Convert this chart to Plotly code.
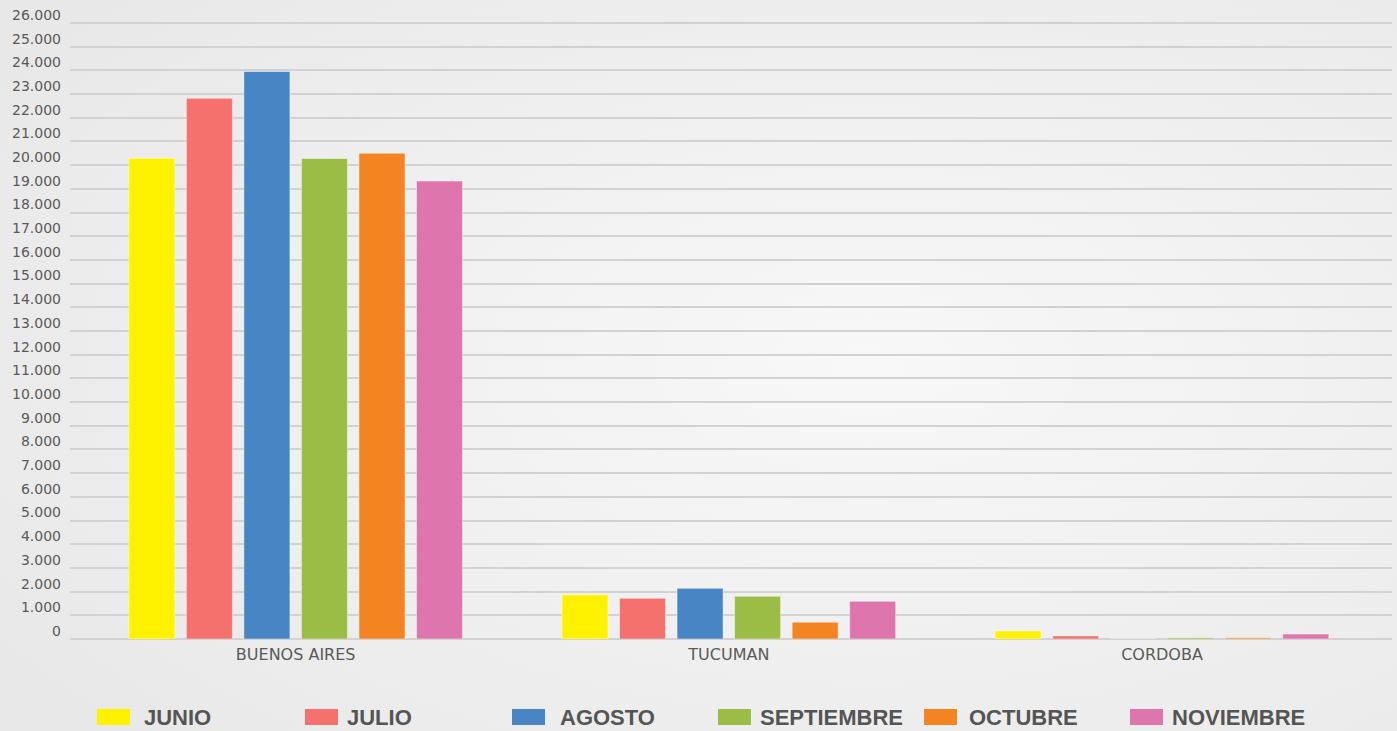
import base64
import plotly.graph_objects as go

# data
provincias = ["BUENOS AIRES", "TUCUMAN", "CORDOBA"]
meses = ["JUNIO", "JULIO", "AGOSTO", "SEPTIEMBRE", "OCTUBRE", "NOVIEMBRE"]
junio = [20290, 1870, 340]
julio = [22820, 1720, 130]
agosto = [23950, 2140, 0]
septiembre = [20280, 1800, 55]
octubre = [20500, 710, 50]
noviembre = [19330, 1590, 210]
valores = [junio, julio, agosto, septiembre, octubre, noviembre]
colores = ["#fff200", "#f4716d", "#4785c5", "#9bbd45", "#f48422", "#de75ad"]
y_ticks = list(range(0, 26001, 1000))

W, H = 1397, 731
ML, MR, MT, MB = 70, 5, 22, 92
PW, PH = W - ML - MR, H - MT - MB

fig = go.Figure()
for mes, vals, col in zip(meses, valores, colores):
    fig.add_trace(go.Bar(
        name=mes, x=provincias, y=vals,
        marker=dict(color=col, line=dict(color="rgba(255,255,255,0.45)", width=1)),
        showlegend=False,
    ))

# soft radial background
svg = f"""<svg xmlns='http://www.w3.org/2000/svg' width='{W}' height='{H}'>
<defs><radialGradient id='g' cx='62%' cy='50%' r='75%'>
<stop offset='0' stop-color='#f8f8f8'/><stop offset='1' stop-color='#e8e8e8'/></radialGradient></defs>
<rect width='100%' height='100%' fill='url(#g)'/></svg>"""
bg = "data:image/svg+xml;base64," + base64.b64encode(svg.encode()).decode()
fig.add_layout_image(dict(
    source=bg, xref="paper", yref="paper",
    x=-ML / PW, y=1 + MT / PH, sizex=W / PW, sizey=H / PH,
    sizing="stretch", layer="below",
))

# top gridline (plotly drops the one at the range edge)
fig.add_shape(type="line", xref="paper", yref="y", x0=0, x1=1,
              y0=y_ticks[-1], y1=y_ticks[-1], line=dict(color="#d2d2d2", width=2), layer="below")

# custom legend with large swatches
leg_sw = [97, 305, 512, 718, 924, 1130]
leg_tx = [142, 345, 558, 758, 967, 1170]
y_base = H - MB
for mes, col, sx, tx in zip(meses, colores, leg_sw, leg_tx):
    fig.add_shape(type="rect", xref="paper", yref="paper",
                  x0=(sx - ML) / PW, x1=(sx + 33 - ML) / PW,
                  y0=(y_base - 725) / PH, y1=(y_base - 709) / PH,
                  fillcolor=col, line=dict(width=0))
    fig.add_annotation(x=(tx - ML) / PW, y=(y_base - 718) / PH, xref="paper", yref="paper",
                       text=f"<b>{mes}</b>", showarrow=False, xanchor="left", yanchor="middle",
                       font=dict(family="Liberation Sans", size=22, color="#555555"))

fig.update_layout(
    width=W, height=H,
    margin=dict(l=ML, r=MR, t=MT, b=MB),
    paper_bgcolor="#efefef", plot_bgcolor="rgba(0,0,0,0)",
    barmode="group", bargap=0.203, bargroupgap=0.2,
    separators=",.",
    font=dict(family="DejaVu Sans", color="#555555"),
)
fig.update_yaxes(
    range=[0, 26040], tickvals=y_ticks, tickformat=",d",
    showgrid=True, gridcolor="#d2d2d2", gridwidth=2,
    zeroline=True, zerolinecolor="#d2d2d2", zerolinewidth=2,
    tickfont=dict(size=14, color="#5a5a5a"), ticklabelshift=-8, ticklabelstandoff=8,
)
fig.update_xaxes(
    range=[-0.521, 2.531],
    showgrid=False, tickfont=dict(size=16, color="#5a5a5a"), ticklabelstandoff=4,
)

fig.write_html("out.html", config={"displayModeBar": False},
               post_script="document.body.style.margin='0';document.body.style.overflow='hidden';")
